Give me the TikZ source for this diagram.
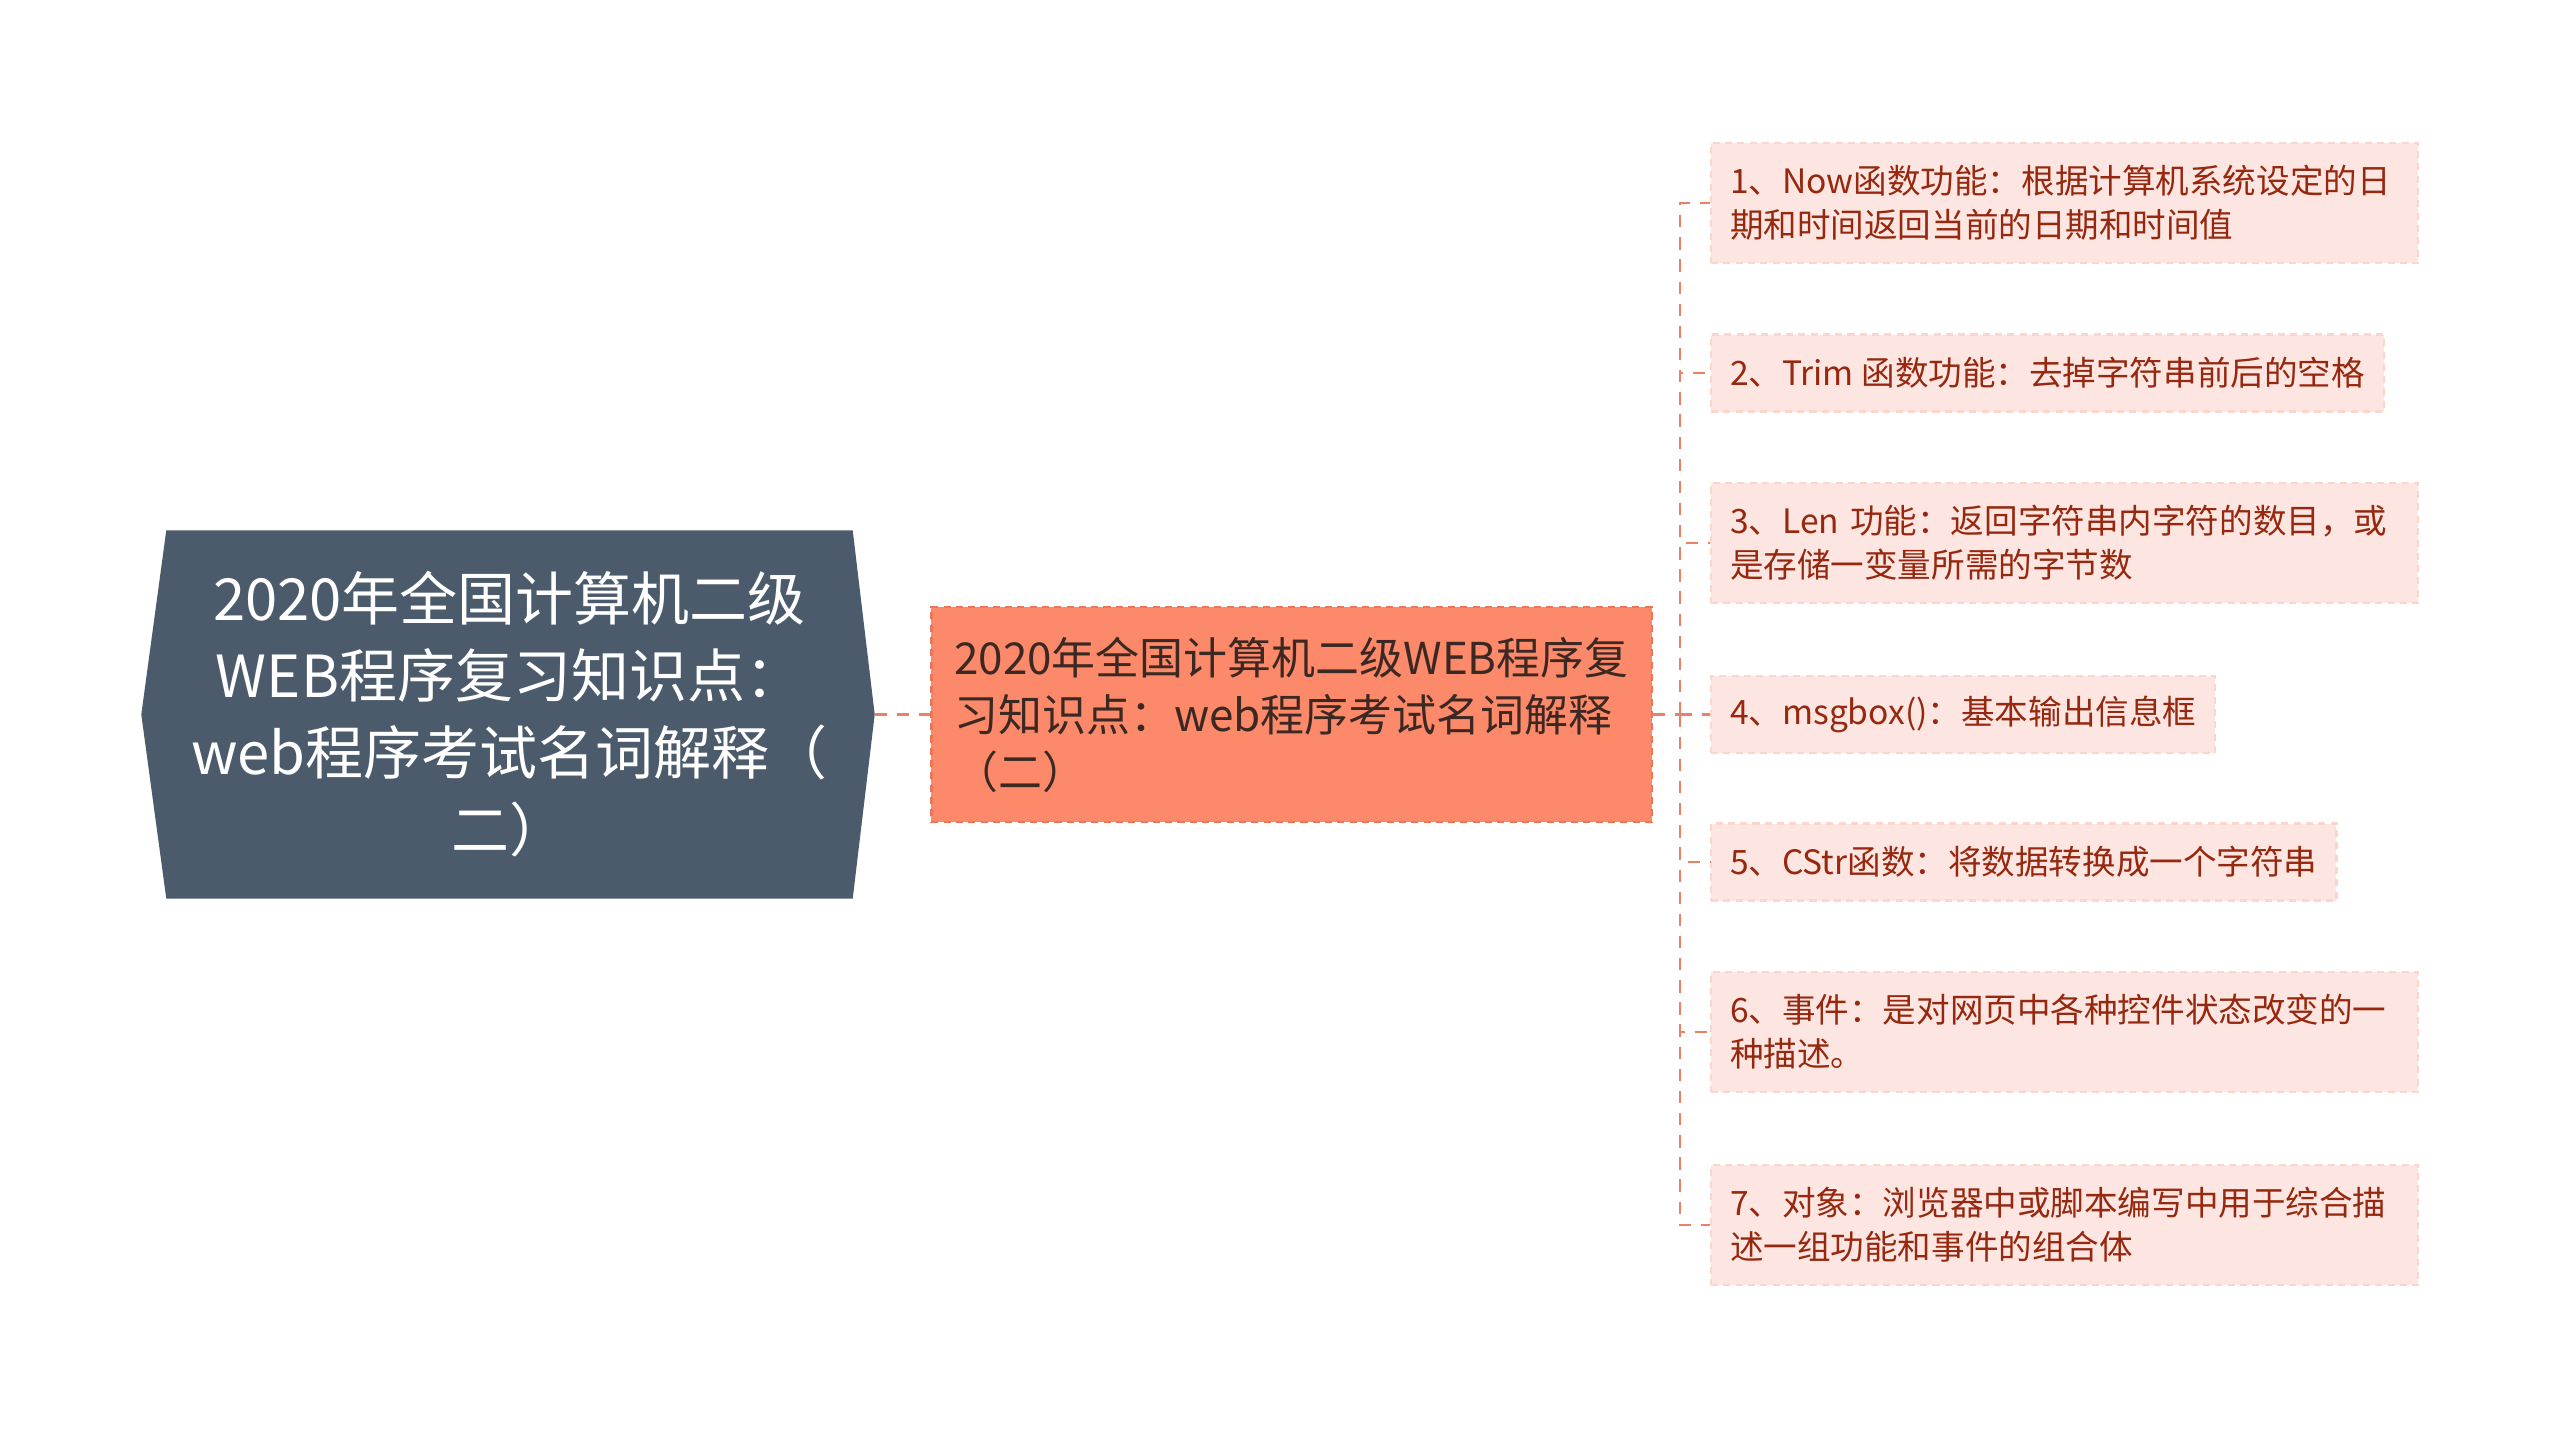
\documentclass[tikz,border=0pt]{standalone}
\usepackage{fontspec}
\setmainfont{Noto Sans CJK SC}
\usepackage{tikz}
\usetikzlibrary{positioning, calc, backgrounds}
\definecolor{ardoise}{RGB}{75,91,107}
\definecolor{corail}{RGB}{252,137,105}
\definecolor{corailfonce}{RGB}{236,118,90}
\definecolor{saumon}{RGB}{234,128,102}
\definecolor{rosepale}{RGB}{253,230,225}
\definecolor{rosebord}{RGB}{250,214,205}
\definecolor{brique}{RGB}{150,40,15}
\definecolor{brun}{RGB}{60,40,35}

\tikzset{
  lien/.style={saumon, line width=0.8pt, dash pattern=on 3.5pt off 2.8pt},
  feuille/.style={anchor=west, fill=rosepale, draw=rosebord, line width=0.6pt,
    dash pattern=on 2pt off 1.5pt, text=brique, align=left,
    inner xsep=0.19cm, inner ysep=0pt, minimum height=0.77cm,
    font=\fontsize{9.55}{12.5}\selectfont},
  double/.style={minimum height=1.2cm, text width=6.69cm}
}

\begin{document}
\begin{tikzpicture}

    \useasboundingbox (0,0) rectangle (25.6,-14.29);

    % Sujet central (hexagone aplati)
    \node[text=white, align=center, inner sep=0pt,
          minimum width=6.85cm, minimum height=3.67cm,
          font=\fontsize{16.5}{21.9}\selectfont] (racine) at (5.095,-7.145)
      {2020年全国计算机二级\\WEB程序复习知识点：\\web程序考试名词解释（\\二）};
    \begin{scope}[on background layer]
      \fill[ardoise] (racine.north west) -- (racine.north east)
        -- ($(racine.east)+(0.22,0)$) -- (racine.south east)
        -- (racine.south west) -- ($(racine.west)+(-0.25,0)$) -- cycle;
    \end{scope}

    % Branche principale
    \node[fill=corail, draw=corailfonce, line width=0.6pt,
          dash pattern=on 2pt off 1.5pt, text=brun, align=left,
          inner xsep=0.23cm, minimum width=7.15cm, minimum height=2.15cm,
          font=\fontsize{12.5}{16.2}\selectfont] (branche) at (12.915,-7.145)
      {2020年全国计算机二级WEB程序复\\习知识点：web程序考试名词解释\\（二）};

    % Feuilles
    \node[feuille, double] (f1) at (17.10,-2.03)
      {1、Now函数功能：根据计算机系统设定的日\\期和时间返回当前的日期和时间值};
    \node[feuille] (f2) at (17.10,-3.73)
      {2、Trim 函数功能：去掉字符串前后的空格};
    \node[feuille, double] (f3) at (17.10,-5.43)
      {3、Len 功能：返回字符串内字符的数目，或\\是存储一变量所需的字节数};
    \node[feuille] (f4) at (17.10,-7.145)
      {4、msgbox()：基本输出信息框};
    \node[feuille] (f5) at (17.10,-8.62)
      {5、CStr函数：将数据转换成一个字符串};
    \node[feuille, double] (f6) at (17.10,-10.32)
      {6、事件：是对网页中各种控件状态改变的一\\种描述。};
    \node[feuille, double] (f7) at (17.10,-12.25)
      {7、对象：浏览器中或脚本编写中用于综合描\\述一组功能和事件的组合体};

    % Liens
    \coordinate (noeud) at (16.80,-7.145);
    \draw[lien] ($(racine.east)+(0.22,0)$) -- (branche.west);
    \draw[lien] (branche.east) -- (noeud);
    \foreach \f in {f1,f2,f3,f4,f5,f6,f7} {
      \draw[lien] (noeud) |- (\f.west);
    }

\end{tikzpicture}
\end{document}
